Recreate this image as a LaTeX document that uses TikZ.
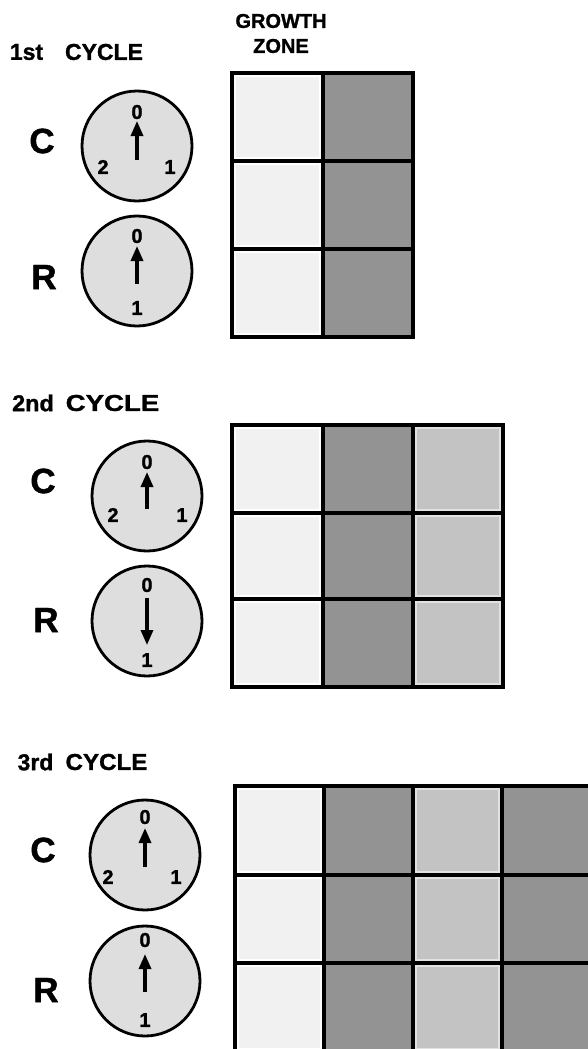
\documentclass[tikz,border=0pt]{standalone}
\usepackage{fontspec}
\setmainfont{Liberation Sans}[BoldFeatures={FakeBold=1.2}]
\usetikzlibrary{arrows.meta}
\definecolor{cellLight}{HTML}{F1F1F1}
\definecolor{cellDark}{HTML}{939393}
\definecolor{cellMid}{HTML}{C3C3C3}
\definecolor{dialFill}{HTML}{DEDEDE}
\tikzset{
  dial/.style={circle, draw=black, line width=2.8pt, fill=dialFill, minimum size=110pt, inner sep=0pt},
  digit/.style={inner sep=0pt, font=\fontsize{20}{22}\selectfont\bfseries},
  rowlabel/.style={inner sep=0pt, font=\fontsize{35}{38}\selectfont\bfseries},
  heading/.style={inner sep=0pt, font=\fontsize{23}{25}\selectfont\bfseries},
  zonelabel/.style={inner sep=0pt, font=\fontsize{20}{24}\selectfont\bfseries},
  hand/.style={line width=3.2pt, -{Triangle[width=12pt,length=15pt]}},
  gridline/.style={line width=3.3pt, line cap=rect},
  rim/.style={draw=white, line width=1.6pt}
}
\begin{document}
\begin{tikzpicture}[x=1pt,y=-1pt]
\useasboundingbox (0,0) rectangle (588,1049);
\fill[white] (0,0) rectangle (588,1049);
\begin{scope}
\clip (0,0) rectangle (588,1049);

% ---------- headings ----------
\node[zonelabel] (growth) at (281,21) {GROWTH};
\node[zonelabel] (zone) at (281,46) {ZONE};

\node[heading] (n1) at (26.5,52) {1st};
\node[heading] (cy1) at (104,52) {CYCLE};
\node[heading] (n2) at (33,403) {\scalebox{1.02}[1]{2nd}};
\node[heading] (cy2) at (112.5,403) {\scalebox{1.2}[1]{CYCLE}};
\node[heading] (n3) at (35.5,762) {3rd};
\node[heading] (cy3) at (106.5,762) {\scalebox{1.05}[1]{CYCLE}};

% ---------- row labels ----------
\node[rowlabel] (lc1) at (42,141) {C};
\node[rowlabel] (lr1) at (44,277) {R};
\node[rowlabel] (lc2) at (43,481) {C};
\node[rowlabel] (lr2) at (46,620) {R};
\node[rowlabel] (lc3) at (43,850) {C};
\node[rowlabel] (lr3) at (46,990) {R};

% ---------- dials, 1st cycle ----------
\node[dial] (d1c) at (137,146) {};
\node[digit] (d1c0) at (137,112) {0};
\node[digit] (d1c2) at (103,167) {2};
\node[digit] (d1c1) at (170,167) {1};
\coordinate (d1ct) at (137,160);
\coordinate (d1ch) at (137,121);
\draw[hand] (d1ct) -- (d1ch);

\node[dial] (d1r) at (137,271) {};
\node[digit] (d1r0) at (137,236) {0};
\node[digit] (d1r1) at (137,308) {1};
\coordinate (d1rt) at (137,284);
\coordinate (d1rh) at (137,246);
\draw[hand] (d1rt) -- (d1rh);

% ---------- dials, 2nd cycle ----------
\node[dial] (d2c) at (147,496) {};
\node[digit] (d2c0) at (147,462) {0};
\node[digit] (d2c2) at (113,515) {2};
\node[digit] (d2c1) at (182,515) {1};
\coordinate (d2ct) at (147,509);
\coordinate (d2ch) at (147,472);
\draw[hand] (d2ct) -- (d2ch);

\node[dial] (d2r) at (147,621) {};
\node[digit] (d2r0) at (147,585) {0};
\node[digit] (d2r1) at (147,660) {1};
\coordinate (d2rt) at (147,598);
\coordinate (d2rh) at (147,645);
\draw[hand] (d2rt) -- (d2rh);

% ---------- dials, 3rd cycle ----------
\node[dial] (d3c) at (145,855) {};
\node[digit] (d3c0) at (145,817) {0};
\node[digit] (d3c2) at (108,877) {2};
\node[digit] (d3c1) at (176,877) {1};
\coordinate (d3ct) at (145,867);
\coordinate (d3ch) at (145,828);
\draw[hand] (d3ct) -- (d3ch);

\node[dial] (d3r) at (145,981) {};
\node[digit] (d3r0) at (145,940) {0};
\node[digit] (d3r1) at (145,1020) {1};
\coordinate (d3rt) at (145,992);
\coordinate (d3rh) at (145,954);
\draw[hand] (d3rt) -- (d3rh);

% ---------- grid 1 ----------
\foreach \ya/\yb in {73/161,161/249,249/337}{
  \fill[cellLight] (232,\ya) rectangle (323,\yb);
  \draw[rim] (235,\ya+3) rectangle (320,\yb-3);
  \fill[cellDark] (323,\ya) rectangle (413,\yb);
}
\draw[gridline] (232,73) rectangle (413,337);
\draw[gridline] (323,73) -- (323,337);
\draw[gridline] (232,161) -- (413,161);
\draw[gridline] (232,249) -- (413,249);

% ---------- grid 2 ----------
\foreach \ya/\yb in {425/513,513/599,599/687}{
  \fill[cellLight] (232,\ya) rectangle (323,\yb);
  \draw[rim] (235,\ya+3) rectangle (320,\yb-3);
  \fill[cellDark] (323,\ya) rectangle (413,\yb);
  \fill[cellMid] (413,\ya) rectangle (503,\yb);
  \draw[rim, draw opacity=0.5] (416,\ya+3) rectangle (500,\yb-3);
}
\draw[gridline] (232,425) rectangle (503,687);
\draw[gridline] (323,425) -- (323,687);
\draw[gridline] (413,425) -- (413,687);
\draw[gridline] (232,513) -- (503,513);
\draw[gridline] (232,599) -- (503,599);

% ---------- grid 3 ----------
\foreach \ya/\yb in {786/875,875/963,963/1052}{
  \fill[cellLight] (235,\ya) rectangle (324,\yb);
  \draw[rim] (238,\ya+3) rectangle (321,\yb-3);
  \fill[cellDark] (324,\ya) rectangle (413,\yb);
  \fill[cellMid] (413,\ya) rectangle (502,\yb);
  \draw[rim, draw opacity=0.5] (416,\ya+3) rectangle (499,\yb-3);
  \fill[cellDark] (502,\ya) rectangle (595,\yb);
}
\draw[gridline] (235,786) rectangle (595,1052);
\draw[gridline] (324,786) -- (324,1052);
\draw[gridline] (413,786) -- (413,1052);
\draw[gridline] (502,786) -- (502,1052);
\draw[gridline] (235,875) -- (595,875);
\draw[gridline] (235,963) -- (595,963);
\end{scope}
\end{tikzpicture}
\end{document}
